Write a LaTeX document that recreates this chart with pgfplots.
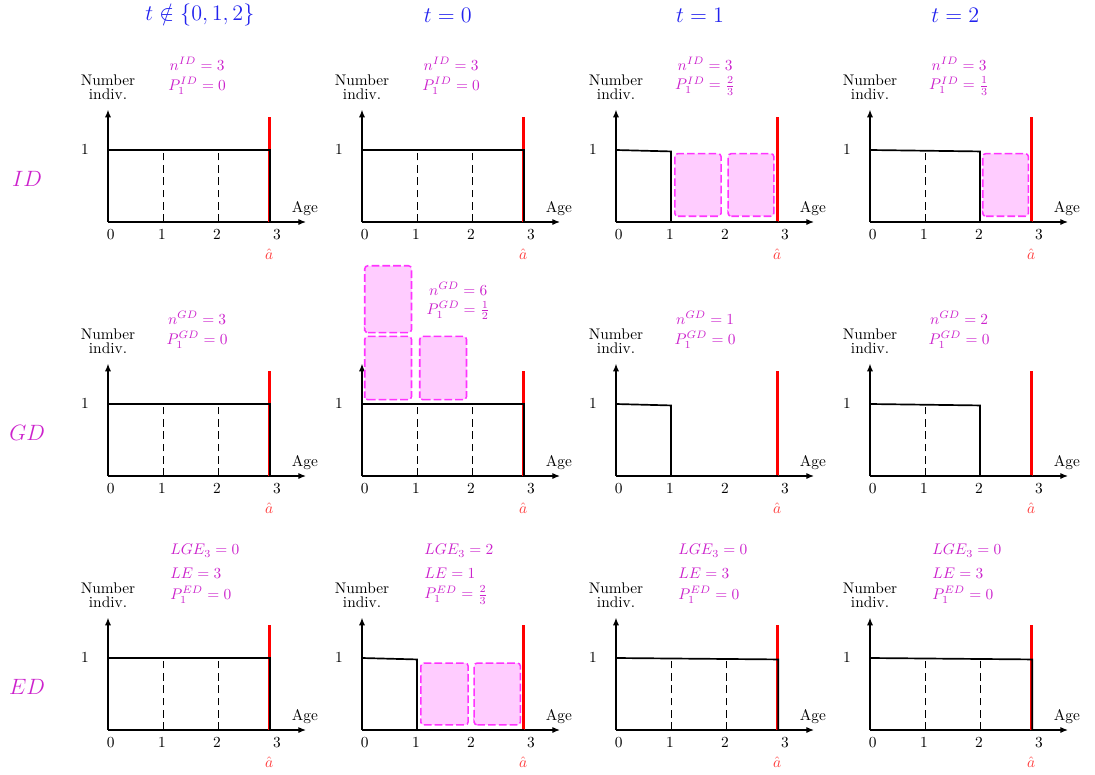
\documentclass[border=0pt]{standalone}
\usepackage{pgfplots}
\pgfplotsset{compat=1.18}
\usetikzlibrary{arrows.meta}
\definecolor{magtext}{RGB}{204,34,204}
\definecolor{hatred}{RGB}{255,60,60}
\definecolor{boxedge}{RGB}{255,51,255}
\definecolor{boxfill}{RGB}{255,204,255}
\definecolor{headblue}{RGB}{34,34,238}
\pgfplotsset{
  panel/.style={
    x=35.75pt, y=46.8pt,
    xmin=0, xmax=3.6, ymin=0, ymax=1.56,
    axis lines=left,
    axis line style={line width=0.8pt, -{Latex[length=5pt,width=4pt]}},
    xtick={0.05,0.98,1.98,3.07}, xticklabels={0,1,2,3}, ytick={1},
    major tick length=0pt,
    yticklabel style={xshift=-9pt},
    xticklabel style={yshift=-1pt},
    clip=false, anchor=south west,
  },
  pop/.style={black, line width=1.1pt, mark=none},
  guide/.style={black, line width=0.5pt, dash pattern=on 5pt off 3pt, mark=none},
  capl/.style={red, line width=2pt, mark=none},
  boxp/.style={draw=boxedge, fill=boxfill, line width=1pt, dash pattern=on 5pt off 2pt, rounded corners=2pt, mark=none},
}
\newcommand{\yl}{\node[align=center, inner sep=0pt] at (axis cs:0,1.87) {Number\\[-2.5pt]indiv.};}
\newcommand{\common}{%
  \node at (axis cs:3.58,0.19) {Age};
  \node[text=hatred] at (axis cs:2.93,-0.44) {$\hat a$};}
\newcommand{\gone}{\addplot[guide] coordinates {(1,0) (1,1)};}
\newcommand{\gtwo}{\addplot[guide] coordinates {(2,0) (2,1)};}
\newcommand{\redcap}{\addplot[capl] coordinates {(2.93,0) (2.93,1.46)};}
\newcommand{\bx}[4]{\addplot[boxp] coordinates {(#1,#3) (#2,#3) (#2,#4) (#1,#4) (#1,#3)} -- cycle;}
\newcommand{\full}{\gone\gtwo\redcap\addplot[pop] coordinates {(0,1) (2.95,1) (2.95,0)};}
\newcommand{\sone}{\gone\redcap\addplot[pop] coordinates {(0,1) (1,0.98) (1,0) (2.95,0)};}
\newcommand{\stwo}{\gone\gtwo\redcap\addplot[pop] coordinates {(0,1) (2,0.98) (2,0) (2.95,0)};}
\newcommand{\flatend}{\gone\gtwo\redcap\addplot[pop] coordinates {(0,1) (2.95,0.98) (2.95,0)};}
\newcommand{\twolines}[2]{%
  \node[text=magtext, inner sep=1pt] at (axis cs:1.62,2.2) {#1};
  \node[text=magtext, inner sep=1pt] at (axis cs:1.62,1.89) {#2};}
\newcommand{\threelines}[3]{%
  \node[text=magtext, anchor=west, inner sep=1pt] at (axis cs:1.1,2.49) {#1};
  \node[text=magtext, anchor=west, inner sep=1pt] at (axis cs:1.1,2.18) {#2};
  \node[text=magtext, anchor=west, inner sep=1pt] at (axis cs:1.1,1.875) {#3};}
\newcommand{\header}[2]{\node[text=headblue, font=\Large] at (axis cs:#1,2.87) {#2};}
\newcommand{\rowlab}[1]{\node[text=magtext, font=\Large] at (axis cs:-1.47,0.6) {#1};}
\begin{document}
\begin{tikzpicture}
\useasboundingbox (0,0) rectangle (711.75pt,-503.1pt);
% ---------- Row 1: ID ----------
\begin{axis}[panel, at={(70.2pt,-144.3pt)}]
  \full \yl \common
  \twolines{$n^{ID}=3$}{$P_1^{ID}=0$}
  \header{1.67}{$t\notin\{0,1,2\}$}
  \rowlab{$ID$}
\end{axis}
\begin{axis}[panel, at={(235.3pt,-144.3pt)}]
  \full \yl \common
  \twolines{$n^{ID}=3$}{$P_1^{ID}=0$}
  \header{1.56}{$t=0$}
\end{axis}
\begin{axis}[panel, at={(400.4pt,-144.3pt)}]
  \bx{1.07}{1.91}{0.08}{0.95}
  \bx{2.04}{2.87}{0.08}{0.95}
  \sone \yl \common
  \twolines{$n^{ID}=3$}{$P_1^{ID}=\frac{2}{3}$}
  \header{1.53}{$t=1$}
\end{axis}
\begin{axis}[panel, at={(565.5pt,-144.3pt)}]
  \bx{2.05}{2.88}{0.08}{0.95}
  \stwo \yl \common
  \twolines{$n^{ID}=3$}{$P_1^{ID}=\frac{1}{3}$}
  \header{1.55}{$t=2$}
\end{axis}
% ---------- Row 2: GD ----------
\begin{axis}[panel, at={(70.2pt,-309.4pt)}]
  \full \yl \common
  \twolines{$n^{GD}=3$}{$P_1^{GD}=0$}
  \rowlab{$GD$}
\end{axis}
\begin{axis}[panel, at={(235.3pt,-309.4pt)}]
  \bx{0.05}{0.9}{1.06}{1.94}
  \bx{0.05}{0.9}{1.99}{2.92}
  \bx{1.05}{1.9}{1.06}{1.94}
  \full \common
  \node[text=magtext, inner sep=1pt] at (axis cs:1.75,2.6) {$n^{GD}=6$};
  \node[text=magtext, inner sep=1pt] at (axis cs:1.75,2.3) {$P_1^{GD}=\frac{1}{2}$};
\end{axis}
\begin{axis}[panel, at={(400.4pt,-309.4pt)}]
  \sone \yl \common
  \twolines{$n^{GD}=1$}{$P_1^{GD}=0$}
\end{axis}
\begin{axis}[panel, at={(565.5pt,-309.4pt)}]
  \stwo \yl \common
  \twolines{$n^{GD}=2$}{$P_1^{GD}=0$}
\end{axis}
% ---------- Row 3: ED ----------
\begin{axis}[panel, at={(70.2pt,-474.5pt)}]
  \full \yl \common
  \threelines{$LGE_3=0$}{$LE=3$}{$P_1^{ED}=0$}
  \rowlab{$ED$}
\end{axis}
\begin{axis}[panel, at={(235.3pt,-474.5pt)}]
  \bx{1.07}{1.93}{0.07}{0.93}
  \bx{2.04}{2.88}{0.07}{0.93}
  \sone \yl \common
  \threelines{$LGE_3=2$}{$LE=1$}{$P_1^{ED}=\frac{2}{3}$}
\end{axis}
\begin{axis}[panel, at={(400.4pt,-474.5pt)}]
  \flatend \yl \common
  \threelines{$LGE_3=0$}{$LE=3$}{$P_1^{ED}=0$}
\end{axis}
\begin{axis}[panel, at={(565.5pt,-474.5pt)}]
  \flatend \yl \common
  \threelines{$LGE_3=0$}{$LE=3$}{$P_1^{ED}=0$}
\end{axis}
\end{tikzpicture}
\end{document}
